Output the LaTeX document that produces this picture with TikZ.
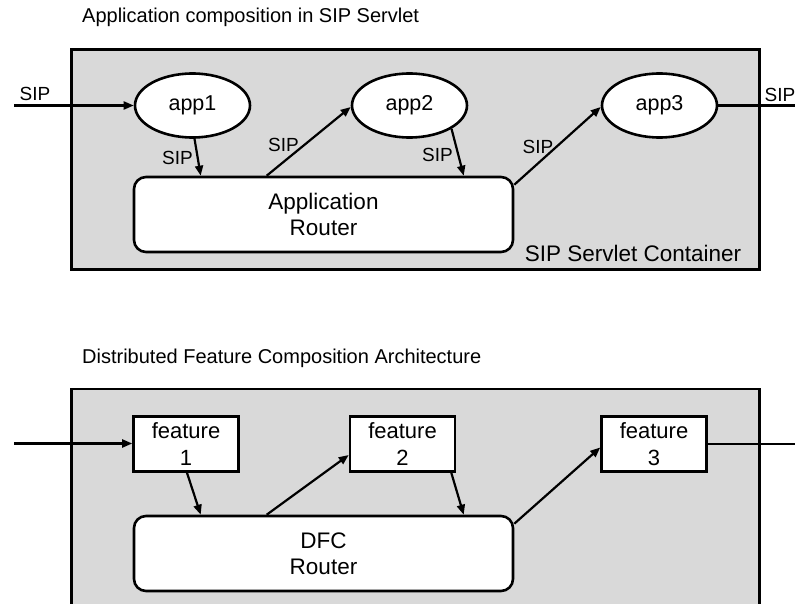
\documentclass[tikz,border=0pt]{standalone}
\usepackage{fontspec}
\setmainfont{Liberation Sans}
\usetikzlibrary{shapes.geometric,arrows.meta,calc}
\begin{document}
\begin{tikzpicture}[x=1pt,y=-1pt,
  container/.style={rectangle,draw=black,line width=2.8pt,fill=black!15,inner sep=0pt,anchor=north west},
  app/.style={ellipse,draw,line width=2.6pt,fill=white,minimum width=115pt,minimum height=64pt,inner sep=0pt,font=\fontsize{21.5}{25}\selectfont},
  feat/.style={rectangle,draw,line width=2.6pt,fill=white,minimum width=105pt,minimum height=55pt,inner sep=0pt,align=center,font=\fontsize{22}{27}\selectfont},
  router/.style={rectangle,rounded corners=12pt,draw,line width=2.6pt,fill=white,minimum width=379pt,minimum height=75pt,inner sep=0pt,align=center,font=\fontsize{22.5}{26}\selectfont},
  arr/.style={line width=2.2pt,-{Triangle[length=10pt,width=8pt]}},
  plainline/.style={line width=2.2pt},
  lbl/.style={font=\fontsize{19}{22}\selectfont,inner sep=0pt},
  ttl/.style={font=\fontsize{20}{24}\selectfont,anchor=base west,inner sep=0pt},
  clabel/.style={font=\fontsize{22.5}{26}\selectfont,inner sep=0pt}]

\useasboundingbox (0,0) rectangle (795,604);
\clip (0,0) rectangle (795,604);

% ---------- top diagram ----------
\node[ttl] (t1) at (82,23) {Application composition in SIP Servlet};
\node[container,minimum width=688pt,minimum height=220pt] (c1) at (70,48) {};
\node[clabel] (c1lbl) at (633,253.5) {SIP Servlet Container};

\node[app] (app1) at (192.5,105.5) {app1};
\node[app] (app2) at (409.5,105.5) {app2};
\node[app] (app3) at (659.5,105.5) {app3};
\node[router] (r1) at (323.5,214.5) {Application\\Router};

\coordinate (in1) at (14,105.5);
\coordinate (out1) at (800,105.5);

\draw[arr] (in1) -- (app1.west);
\draw[arr] ($(app1.south)+(2,0)$) -- ($(r1.north west)+(68,0)$);
\draw[arr] ($(r1.north west)+(134,0)$) -- ($(app2.west)+(0,1.5)$);
\draw[arr] (app2.-29) -- ($(r1.north west)+(331,0)$);
\draw[arr] ($(r1.north east)+(0,9)$) -- ($(app3.west)+(0,1.5)$);
\draw[plainline] (app3.east) -- (out1);

\node[lbl] (s1) at (35,93.5) {SIP};
\node[lbl] (s2) at (177.5,158) {SIP};
\node[lbl] (s3) at (283.5,144.5) {SIP};
\node[lbl] (s4) at (437.5,155) {SIP};
\node[lbl] (s5) at (538,146.5) {SIP};
\node[lbl] (s6) at (780,94.5) {SIP};

% ---------- bottom diagram ----------
\node[ttl] (t2) at (82,363) {Distributed Feature Composition Architecture};
\node[container,minimum width=688pt,minimum height=260pt] (c2) at (70,387.5) {};

\node[feat] (f1) at (186,444) {feature\\1};
\node[feat] (f2) at (402.5,444) {feature\\2};
\node[feat] (f3) at (654,444) {feature\\3};
\node[router] (r2) at (323.5,553.5) {DFC\\Router};

\coordinate (in2) at (14,443.5);
\coordinate (out2) at (800,444);

\draw[arr] (in2) -- ($(f1.west)+(0,-0.5)$);
\draw[arr] ($(f1.south)+(1,0)$) -- ($(r2.north west)+(68,0)$);
\draw[arr] ($(r2.north west)+(134,0)$) -- ($(f2.west)+(0,11)$);
\draw[arr] ($(f2.south east)+(-5,0)$) -- ($(r2.north west)+(331,0)$);
\draw[arr] ($(r2.north east)+(0,9)$) -- ($(f3.west)+(0,3.5)$);
\draw[plainline] (f3.east) -- (out2);
\end{tikzpicture}
\end{document}
